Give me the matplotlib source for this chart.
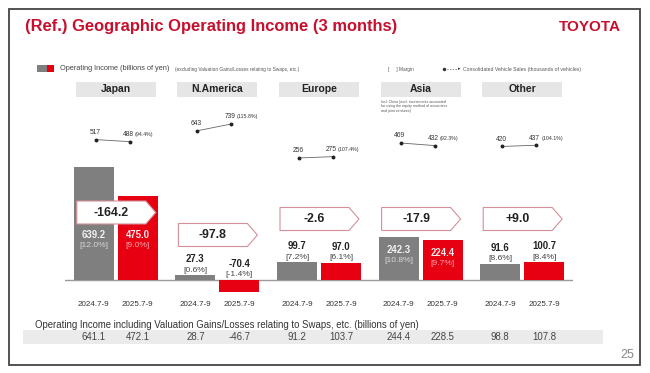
import matplotlib
matplotlib.use("Agg")
import matplotlib.pyplot as plt
from matplotlib.patches import Rectangle, Polygon

plt.rcParams["font.family"] = ["Liberation Sans", "DejaVu Sans"]

# --- data ---
GROUPS = ["Japan", "N.America", "Europe", "Asia", "Other"]
PERIODS = ["2024.7-9", "2025.7-9"]
PREV = [639.2, 27.3, 99.7, 242.3, 91.6]
CURR = [475.0, -70.4, 97.0, 224.4, 100.7]
PREV_MARGIN = ["12.0%", "0.6%", "7.2%", "10.8%", "8.6%"]
CURR_MARGIN = ["9.0%", "-1.4%", "6.1%", "9.7%", "8.4%"]
DELTA = ["-164.2", "-97.8", "-2.6", "-17.9", "+9.0"]
SALES_PREV = [517, 643, 256, 469, 420]
SALES_CURR = [488, 739, 275, 432, 437]
SALES_RATIO = ["94.4%", "115.8%", "107.4%", "92.3%", "104.1%"]
SWAP_PREV = [641.1, 28.7, 91.2, 244.4, 98.8]
SWAP_CURR = [472.1, -46.7, 103.7, 228.5, 107.8]

W, H = 650, 373
GRAY = "#7f7f7f"
RED = "#e60012"
TITLE_RED = "#c8102e"

fig = plt.figure(figsize=(W / 100, H / 100), dpi=100)
fig.patch.set_facecolor("white")


def px_axes(top_px, bottom_px, left_px=0, right_px=W, z=0):
    a = fig.add_axes([left_px / W, 1 - bottom_px / H,
                      (right_px - left_px) / W, (bottom_px - top_px) / H], zorder=z)
    a.patch.set_visible(False)
    a.axis("off")
    return a


back = px_axes(0, H, z=0)
back.set_xlim(0, W)
back.set_ylim(H, 0)
front = px_axes(0, H, z=5)
front.set_xlim(0, W)
front.set_ylim(H, 0)

# bar axes: baseline sits at y=280px, groups centred every ~102px
ax = px_axes(150, 300, 65, 573, z=2)
ax.set_xlim(-0.5, len(GROUPS) - 0.5)
ax.set_ylim(-113, 734.5)
# vehicle-sales axes share the x layout
axs = px_axes(110, 176, 65, 573, z=3)
axs.set_xlim(-0.5, len(GROUPS) - 0.5)
axs.set_ylim(0, 937.5)

UNIT = 508 / len(GROUPS)  # px per x unit
bw = 40 / UNIT
off = 22 / UNIT
x = list(range(len(GROUPS)))


def to_px(a, xv, yv):
    dx, dy = a.transData.transform((xv, yv))
    return dx, H - dy


# frame, title, logo
back.add_patch(Rectangle((9, 9), 631, 356, fill=False, ec="#444444", lw=1.3))
back.text(25, 27, "(Ref.) Geographic Operating Income (3 months)", color=TITLE_RED,
          fontsize=11.9, fontweight="bold", va="center", ha="left")
back.text(621, 27, "TOYOTA", color=TITLE_RED, fontsize=11, fontweight="bold",
          va="center", ha="right")

# legend line
back.add_patch(Rectangle((37, 65), 10, 7, color=GRAY, lw=0))
back.add_patch(Rectangle((47, 65), 7, 7, color=RED, lw=0))
back.text(60, 68.5, "Operating Income (billions of yen)", fontsize=5.3,
          color="#444444", va="center")
back.text(175, 69, "(excluding Valuation Gains/Losses relating to Swaps, etc.)",
          fontsize=3.4, color="#555555", va="center")
back.text(388, 69, "[     ] Margin", fontsize=3.4, color="#555555", va="center")
back.plot([444, 458], [69, 69], ls=(0, (2, 2)), color="#555555", lw=0.5)
back.plot([444], [69], "o", ms=1.5, color="#333333")
back.text(459, 69, "\u25b8", fontsize=3.5, color="#333333", va="center", ha="center")
back.text(463, 69, "Consolidated Vehicle Sales (thousands of vehicles)",
          fontsize=3.7, color="#555555", va="center")

# group headers
for i, g in enumerate(GROUPS):
    cx, _ = to_px(ax, x[i], 0)
    back.add_patch(Rectangle((cx - 40, 82), 80, 15, color="#e6e6e6", lw=0))
    back.text(cx, 89.5, g, fontsize=7.5, fontweight="bold", color="#222222",
              ha="center", va="center")
    if g == "Asia":
        back.text(cx - 40, 100, "Incl. China (excl. investments accounted\n"
                  "for using the equity method of associates\nand joint ventures)",
                  fontsize=2.6, color="#555555", va="top", ha="left", linespacing=1.1)

# baseline + bars
ax.axhline(0, color="#9a9a9a", lw=1.0, zorder=1)
ax.bar([v - off for v in x], PREV, width=bw, color=GRAY, zorder=2)
ax.bar([v + off for v in x], CURR, width=bw, color=RED, zorder=2)

# arrow boxes with change
BOX_Y = [212.5, 235, 219, 219, 219]
for i, d in enumerate(DELTA):
    cx, _ = to_px(ax, x[i], 0)
    L, R, tip, top, bot = cx - 39, cx + 40, 10, BOX_Y[i] - 11.5, BOX_Y[i] + 11.5
    front.add_patch(Polygon([(L, top), (R - tip, top), (R, BOX_Y[i]), (R - tip, bot), (L, bot)],
                            closed=True, fc="white", ec="#d48f98", lw=0.8))
    front.text((L + R - tip) / 2, BOX_Y[i] + 0.5, d, fontsize=8.8, fontweight="bold",
               color="#222222", ha="center", va="center")

# value + margin labels
for i in x:
    box_bot = BOX_Y[i] + 11.5
    for xv, v, m, face in ((x[i] - off, PREV[i], PREV_MARGIN[i], "gray"),
                           (x[i] + off, CURR[i], CURR_MARGIN[i], "red")):
        px, top_px = to_px(ax, xv, max(v, 0))
        if v > 200:
            ny = max(top_px + 13, box_bot + 11)
            my = ny + 10.5
            nc = "#f2f2f2" if face == "gray" else "#fde8e8"
            mc = "#d9d9d9" if face == "gray" else "#f6a8ad"
        else:
            ny, my = top_px - 16, top_px - 5
            nc, mc = "#222222", "#444444"
        front.text(px, ny, f"{v:.1f}", fontsize=6.9, fontweight="bold", color=nc,
                   ha="center", va="center")
        front.text(px, my, f"[{m}]", fontsize=6.1, color=mc, ha="center", va="center")

# vehicle sales
for i in x:
    x0, x1 = x[i] - 20 / UNIT, x[i] + 14 / UNIT
    axs.plot([x0, x1], [SALES_PREV[i], SALES_CURR[i]], color="#666666", lw=0.6, zorder=1)
    axs.plot([x0, x1], [SALES_PREV[i], SALES_CURR[i]], "o", ms=1.8, color="#222222", zorder=2)
    p0 = to_px(axs, x0, SALES_PREV[i])
    p1 = to_px(axs, x1, SALES_CURR[i])
    front.text(p0[0] - 1, p0[1] - 7, str(SALES_PREV[i]), fontsize=4.8, color="#333333",
               ha="center", va="center")
    front.text(p1[0] - 7, p1[1] - 7, f"{SALES_CURR[i]}", fontsize=4.8, color="#333333",
               ha="left", va="center")
    front.text(p1[0] + 5, p1[1] - 7, f"({SALES_RATIO[i]})", fontsize=3.8,
               color="#333333", ha="left", va="center")

# period labels
for i in x:
    for xv, lab in zip((x[i] - off, x[i] + off), PERIODS):
        px, _ = to_px(ax, xv, 0)
        back.text(px, 304, lab, fontsize=5.8, color="#333333", ha="center", va="center")

# bottom table
back.text(35, 325, "Operating Income including Valuation Gains/Losses relating to Swaps, etc. "
          "(billions of yen)", fontsize=6.9, color="#333333", va="center", ha="left")
back.add_patch(Rectangle((23, 330), 580, 14, color="#ebebeb", lw=0))
for i in x:
    for xv, v in ((x[i] - off, SWAP_PREV[i]), (x[i] + off, SWAP_CURR[i])):
        px, _ = to_px(ax, xv, 0)
        back.text(px, 337.5, f"{v:.1f}", fontsize=6.9, color="#444444",
                  ha="center", va="center")

back.text(634, 355, "25", fontsize=9, color="#888888", ha="right", va="center")

fig.savefig("out.png", dpi=100, facecolor="white")
